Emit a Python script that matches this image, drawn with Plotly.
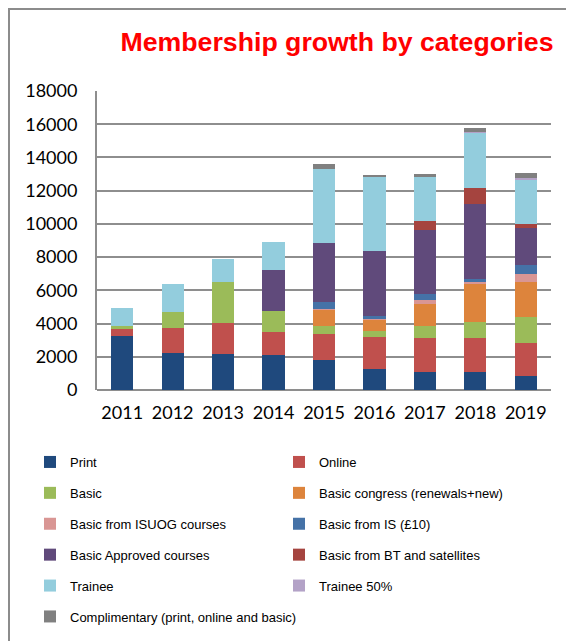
import plotly.graph_objects as go

years = ["2011", "2012", "2013", "2014", "2015", "2016", "2017", "2018", "2019"]

print_ = [3230, 2230, 2150, 2110, 1810, 1240, 1100, 1060, 840]
online = [480, 1480, 1890, 1360, 1540, 1970, 2010, 2050, 2010]
basic = [120, 990, 2490, 1270, 510, 360, 750, 960, 1570]
basic_congress = [0, 0, 0, 0, 960, 650, 1330, 2350, 2070]
basic_isuog = [0, 0, 0, 0, 60, 30, 200, 100, 520]
basic_is = [0, 0, 0, 0, 440, 230, 360, 140, 540]
basic_approved = [0, 0, 0, 2510, 3500, 3900, 3880, 4520, 2210]
basic_bt = [0, 0, 0, 0, 0, 0, 570, 1010, 240]
trainee = [1130, 1690, 1330, 1650, 4500, 4500, 2650, 3320, 2670]
trainee50 = [0, 0, 0, 0, 0, 0, 0, 50, 100]
complimentary = [0, 0, 0, 0, 300, 90, 180, 210, 280]

series = [
    ("Print", print_, "#1F497D", "legend"),
    ("Online", online, "#C0504D", "legend2"),
    ("Basic", basic, "#9BBB59", "legend"),
    ("Basic congress (renewals+new)", basic_congress, "#DD843C", "legend2"),
    ("Basic from ISUOG courses", basic_isuog, "#D99694", "legend"),
    ("Basic from IS (£10)", basic_is, "#4572A7", "legend2"),
    ("Basic Approved courses", basic_approved, "#604A7B", "legend"),
    ("Basic from BT and satellites", basic_bt, "#A5443F", "legend2"),
    ("Trainee", trainee, "#93CDDD", "legend"),
    ("Trainee 50%", trainee50, "#B3A2C7", "legend2"),
    ("Complimentary (print, online and basic)", complimentary, "#808080", "legend"),
]

fig = go.Figure()
for name, vals, color, leg in series:
    fig.add_trace(go.Bar(
        x=years, y=vals, name=name, marker_color=color,
        marker_line_width=0, legend=leg, legendgroup=name,
    ))

OFF = 8  # page offset of the figure in the screenshot
W, H = 574, 641
L, T = 97 - OFF, 91 - OFF
R = OFF + W - 551
B = OFF + H - 390
pw, ph = W - L - R, H - T - B

def px_x(x):
    return (x - OFF - L) / pw

def px_y(y):
    return 1 - (y - OFF - T) / ph

legend_common = dict(
    orientation="v", yanchor="top", xanchor="left",
    font=dict(family="Liberation Sans, Arial", size=13, color="#000"),
    tracegroupgap=11, bgcolor="rgba(0,0,0,0)", traceorder="grouped",
)

fig.update_layout(
    width=W, height=H,
    margin=dict(l=L, r=R, t=T, b=B),
    barmode="stack", bargap=0.56,
    plot_bgcolor="white", paper_bgcolor="white",
    title=dict(text="<b>Membership growth by categories</b>",
               font=dict(family="Liberation Sans, Arial", size=26.7, color="#FF0000"),
               x=px_x(337), xref="paper", xanchor="center",
               y=1 - (42 - OFF) / H, yanchor="middle"),
    legend=dict(x=px_x(30), y=px_y(447), **legend_common),
    legend2=dict(x=px_x(279), y=px_y(447), **legend_common),
    xaxis=dict(showgrid=False, showline=False, ticks="",
               tickfont=dict(family="Lato, Carlito, sans-serif", size=18, color="#000"),
               ticklabelstandoff=10),
    yaxis=dict(range=[0, 18000], dtick=2000, tickformat="d",
               showgrid=True, gridcolor="#8E8E8E",
               gridwidth=1.8, zeroline=True, zerolinecolor="#8E8E8E", zerolinewidth=2,
               showline=True, linecolor="#8E8E8E", linewidth=2,
               tickfont=dict(family="Lato, Carlito, sans-serif", size=18, color="#000"),
               ticklabelstandoff=14),
    shapes=[
        dict(type="rect", xref="paper", yref="paper",
             x0=px_x(OFF + 1), x1=px_x(620), y0=px_y(720), y1=px_y(OFF + 1),
             line=dict(color="#8C8C8C", width=2), fillcolor="rgba(0,0,0,0)",
             layer="below"),
    ],
)

fig.write_html("out.html")
